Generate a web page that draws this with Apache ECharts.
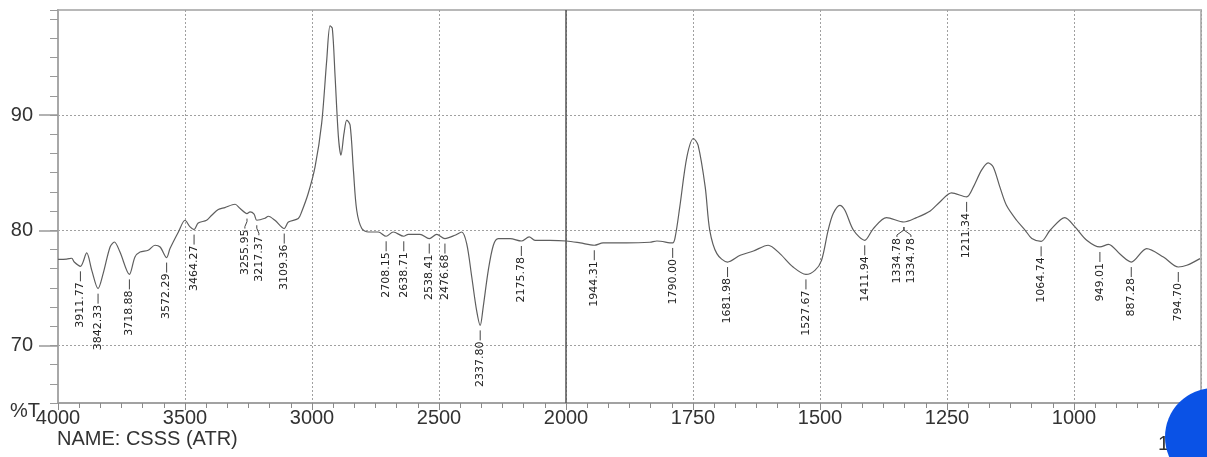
<!DOCTYPE html>
<html>
<head>
<meta charset="utf-8">
<script src="https://cdn.jsdelivr.net/npm/echarts@6/dist/echarts.min.js"></script>
<style>
  html, body { margin: 0; padding: 0; background: #fff; }
  #container { width: 1207px; height: 457px; }
</style>
</head>
<body>
<div id="container"></div>
<script>
// spectrum (wavenumber cm-1, %T)
var wavenumbers = [4000, 3966, 3946, 3936, 3911.77, 3887, 3867, 3842.33, 3822, 3795, 3778, 3756, 3718.88, 3697, 3677, 3645, 3618, 3598, 3572.29, 3559, 3526, 3500, 3480, 3464.27, 3448, 3415, 3395, 3369, 3343, 3303, 3283, 3255.95, 3244, 3228, 3217.37, 3185, 3172, 3146, 3109.36, 3093, 3054, 3041, 3015, 2988, 2962, 2942, 2929, 2920, 2909, 2896, 2886, 2874, 2863, 2850, 2837, 2824, 2804, 2778, 2739, 2708.15, 2680, 2638.71, 2621, 2575, 2538.41, 2509, 2476.68, 2437, 2411, 2391, 2371, 2352, 2337.80, 2326, 2306, 2286, 2267, 2220, 2175.78, 2145, 2122, 2063, 1999, 1972, 1944.31, 1927, 1881, 1835, 1821, 1790, 1785, 1776, 1762, 1749, 1740, 1726, 1717, 1703, 1681.98, 1657, 1631, 1602, 1579, 1553, 1527.67, 1510, 1497, 1484, 1474, 1461, 1451, 1434, 1411.94, 1395, 1369, 1334.78, 1310, 1283, 1264, 1241, 1211.34, 1198, 1182, 1169, 1159, 1146, 1133, 1113, 1096, 1083, 1064.74, 1047, 1018, 998, 975, 949.01, 932, 909, 887.28, 857, 824, 794.70, 778, 752];
var transmittance = [77.48, 77.50, 77.57, 77.24, 76.87, 78.03, 76.52, 74.93, 76.26, 78.55, 78.98, 78.11, 76.17, 77.68, 78.11, 78.26, 78.70, 78.55, 77.63, 78.41, 79.85, 80.87, 80.29, 80.06, 80.63, 80.87, 81.30, 81.80, 81.97, 82.26, 81.89, 81.45, 81.59, 81.40, 80.87, 81.04, 81.22, 80.87, 80.15, 80.72, 81.02, 81.59, 83.19, 85.50, 89.28, 94.78, 97.75, 97.54, 93.33, 88.11, 86.52, 88.41, 89.57, 89.13, 85.22, 81.74, 80.15, 79.85, 79.85, 79.48, 79.85, 79.48, 79.65, 79.65, 79.28, 79.65, 79.28, 79.57, 79.85, 78.84, 75.94, 73.04, 71.74, 73.33, 76.52, 78.70, 79.28, 79.28, 79.07, 79.42, 79.13, 79.13, 79.07, 78.90, 78.70, 78.90, 78.90, 78.96, 79.07, 78.90, 79.42, 82.03, 86.37, 87.97, 87.39, 83.77, 80.00, 77.97, 77.24, 77.83, 78.20, 78.70, 77.97, 76.81, 76.17, 76.52, 77.39, 80.00, 81.45, 82.17, 81.74, 80.00, 79.13, 80.15, 81.10, 80.72, 81.10, 81.68, 82.46, 83.24, 82.90, 83.77, 85.22, 85.85, 85.50, 83.77, 82.17, 80.87, 80.00, 79.28, 79.04, 80.00, 81.10, 80.29, 79.13, 78.55, 78.78, 77.91, 77.24, 78.41, 77.68, 76.81, 76.96, 77.54];

// picked peaks
var peakLabels = [3911.77, 3842.33, 3718.88, 3572.29, 3464.27, 3255.95, 3217.37, 3109.36, 2708.15, 2638.71, 2538.41, 2476.68, 2337.80, 2175.78, 1944.31, 1790.00, 1681.98, 1527.67, 1411.94, 1334.78, 1334.78, 1211.34, 1064.74, 949.01, 887.28, 794.70];

var xTickValues = [4000, 3500, 3000, 2500, 2000, 1750, 1500, 1250, 1000, 750];
var yTickValues = [70, 80, 90];

// the instrument halves the scale below 2000 cm-1
function toU(w) { return w >= 2000 ? 4000 - w : 2000 + (2000 - w) * 2; }
function fromU(u) { return u <= 2000 ? 4000 - u : 2000 - (u - 2000) / 2; }

function tAt(w) {
  for (var i = 0; i < wavenumbers.length - 1; i++) {
    var a = wavenumbers[i], b = wavenumbers[i + 1];
    if (w <= a && w >= b) {
      var f = (a - w) / (a - b);
      return transmittance[i] + f * (transmittance[i + 1] - transmittance[i]);
    }
  }
  return transmittance[transmittance.length - 1];
}

// push colliding labels apart, like the instrument software does
function spread(xs, gap) {
  var groups = xs.map(function (x, i) { return { idx: [i], center: x }; });
  var merged = true;
  while (merged) {
    merged = false;
    for (var g = 0; g < groups.length - 1; g++) {
      var a = groups[g], b = groups[g + 1];
      var aRight = a.center + (a.idx.length - 1) * gap / 2;
      var bLeft = b.center - (b.idx.length - 1) * gap / 2;
      if (bLeft - aRight < gap) {
        var idx = a.idx.concat(b.idx);
        var c = idx.reduce(function (s, k) { return s + xs[k]; }, 0) / idx.length;
        groups.splice(g, 2, { idx: idx, center: c });
        merged = true;
        break;
      }
    }
  }
  var out = [];
  groups.forEach(function (g) {
    g.idx.forEach(function (k, j) { out[k] = g.center + (j - (g.idx.length - 1) / 2) * gap; });
  });
  return out;
}

var dom = document.getElementById('container');
var myChart = echarts.init(dom, null, { renderer: 'canvas' });

var font = 'Liberation Sans, Arial, sans-serif';

var option = {
  backgroundColor: '#fff',
  animation: false,
  grid: {
    left: 58, right: 6, top: 10, bottom: 54,
    show: true, borderColor: '#b8b8b8', borderWidth: 2
  },
  xAxis: {
    type: 'value',
    min: 0,
    max: 4500,
    interval: 500,
    axisLine: { show: true, onZero: false, lineStyle: { color: '#9a9a9a', width: 1.5 } },
    axisTick: { show: true, length: 7, lineStyle: { color: '#8a8a8a' } },
    minorTick: { show: true, splitNumber: 6, length: 5, lineStyle: { color: '#8a8a8a' } },
    axisLabel: {
      margin: 5, fontSize: 20, color: '#333', fontFamily: font,
      showMaxLabel: false,
      formatter: function (u) { return String(fromU(u)); }
    },
    splitLine: { show: true, lineStyle: { color: '#a0a0a0', type: [2, 2] } }
  },
  yAxis: [
    {
      type: 'value',
      position: 'left',
      min: 65,
      max: 99.13,
      interval: 5,
      axisLine: { show: true, lineStyle: { color: '#a8a8a8', width: 2 } },
      axisTick: { show: true, length: 8, lineStyle: { color: '#9a9a9a' } },
      minorTick: { show: true, splitNumber: 3, length: 8, lineStyle: { color: '#9a9a9a' } },
      axisLabel: { show: false },
      splitLine: { show: false }
    },
    {
      type: 'value',
      position: 'left',
      min: 65,
      max: 99.13,
      axisLine: { show: false },
      axisTick: { show: true, length: 19, customValues: yTickValues, lineStyle: { color: '#999', width: 1.5 } },
      axisLabel: { margin: 25, fontSize: 20, color: '#333', fontFamily: font, customValues: yTickValues },
      splitLine: { show: true, lineStyle: { color: '#a0a0a0', type: [2, 2] } }
    }
  ],
  graphic: [
    { type: 'text', left: 10, top: 401, style: { text: '%T', fontSize: 20, fill: '#333', fontFamily: font } },
    { type: 'text', left: 57, top: 429, style: { text: 'NAME: CSSS (ATR)', fontSize: 20, fill: '#333', fontFamily: font } },
    { type: 'text', left: 1158, top: 434, z: 10, style: { text: '1', fontSize: 20, fill: '#333', fontFamily: font } },
    { type: 'circle', z: 20, shape: { cx: 1214, cy: 437, r: 49 }, style: { fill: '#0a52e6' } }
  ],
  series: [
    {
      name: 'CSSS (ATR)',
      type: 'line',
      xAxisIndex: 0,
      yAxisIndex: 0,
      showSymbol: false,
      smooth: 0.3,
      lineStyle: { color: '#5e5e5e', width: 1.2 },
      data: wavenumbers.map(function (w, i) { return [toU(w), transmittance[i]]; }),
      markLine: {
        silent: true,
        symbol: 'none',
        label: { show: false },
        lineStyle: { color: '#555', type: 'solid', width: 1.5 },
        data: [{ xAxis: toU(2000) }]
      }
    },
    {
      name: 'peaks',
      type: 'custom',
      xAxisIndex: 0,
      yAxisIndex: 0,
      z: 5,
      data: peakLabels.map(function (w) { return [toU(w), tAt(w)]; }),
      renderItem: function (params, api) {
        var i = params.dataIndex;
        var p = api.coord([api.value(0), api.value(1)]);
        var xs = peakLabels.map(function (w) { return api.coord([toU(w), tAt(w)])[0]; });
        var lx = spread(xs, 14)[i];
        var y0 = p[1] + 5;
        var pts = Math.abs(lx - p[0]) < 0.5
          ? [[p[0], y0], [p[0], y0 + 10]]
          : [[p[0], y0], [p[0], y0 + 3], [lx, y0 + 8], [lx, y0 + 10]];
        return {
          type: 'group',
          children: [
            { type: 'polyline', shape: { points: pts }, style: { stroke: '#444', lineWidth: 1, fill: null } },
            {
              type: 'text',
              x: lx,
              y: y0 + 11,
              rotation: Math.PI / 2,
              style: {
                text: peakLabels[i].toFixed(2),
                fontSize: 11,
                fontFamily: 'DejaVu Sans, sans-serif',
                fill: '#222',
                align: 'right',
                verticalAlign: 'middle'
              }
            }
          ]
        };
      }
    }
  ]
};

if (option && typeof option === 'object') {
  myChart.setOption(option);
}

window.addEventListener('resize', myChart.resize);
</script>
</body>
</html>
